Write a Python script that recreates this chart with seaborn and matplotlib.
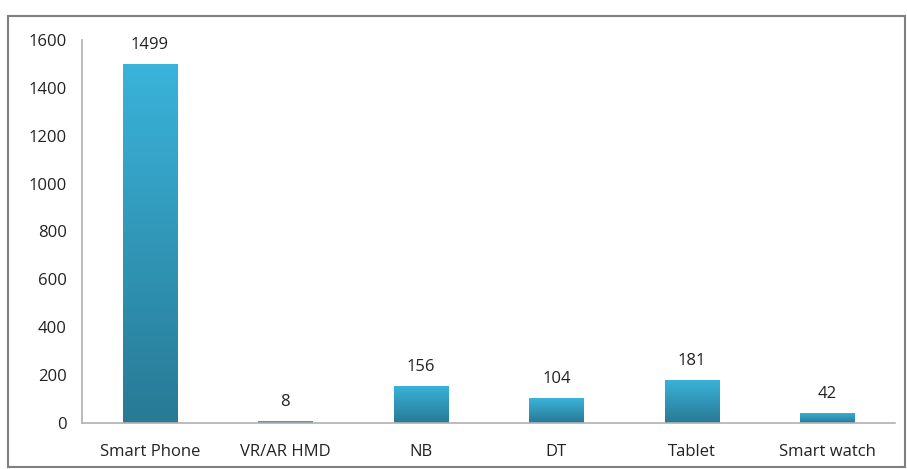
import numpy as np
import pandas as pd
import matplotlib
matplotlib.use('Agg')
import matplotlib.pyplot as plt
import seaborn as sns
from matplotlib.colors import LinearSegmentedColormap
from matplotlib.patches import Rectangle

devices = ["Smart Phone", "VR/AR HMD", "NB", "DT", "Tablet", "Smart watch"]
counts = [1499, 8, 156, 104, 181, 42]
y_ticks = [0, 200, 400, 600, 800, 1000, 1200, 1400, 1600]

sns.set_style("white")
plt.rcParams['font.family'] = ['Open Sans', 'DejaVu Sans']

df = pd.DataFrame({"device": devices, "count": counts})

fig = plt.figure(figsize=(9.07, 4.69), dpi=100)
ax = fig.add_axes([0.0904, 0.098, 0.8966, 0.817])

sns.barplot(x="device", y="count", data=df, ax=ax, width=0.4, color="#2fa3c6")

# excel-like vertical gradient on each bar
grad = LinearSegmentedColormap.from_list("bar", ["#287a95", "#3ab3da"])
ax.set_ylim(0, 1600)
for p in ax.patches:
	x0, y0 = p.get_x(), p.get_y()
	w, h = p.get_width(), p.get_height()
	img = ax.imshow(np.linspace(0, 1, 100).reshape(-1, 1), cmap=grad, origin="lower",
		extent=[x0, x0 + w, y0, y0 + h], aspect="auto", zorder=p.get_zorder() + 0.1)
	img.set_clip_path(p)
	ax.text(x0 + w / 2, y0 + h + 45, f"{int(h)}", ha="center", va="bottom",
		fontsize=12, color="#222222")

ax.set_xlim(-0.5, len(devices) - 0.5)
ax.set_ylim(0, 1600)
ax.set_yticks(y_ticks)
ax.set_xlabel("")
ax.set_ylabel("")
ax.set_xticks(range(len(devices)))
ax.set_xticklabels(devices, fontsize=12, color="#222222")
ax.set_xticks(np.arange(-0.5, len(devices)), minor=True)
ax.tick_params(axis="x", which="major", length=0, pad=15)
ax.tick_params(axis="x", which="minor", length=5, color="#a0a0a0", direction="out")
ax.tick_params(axis="y", length=5, color="#a0a0a0", direction="out", labelsize=12,
	labelcolor="#222222", pad=6)
ax.spines['right'].set_visible(False)
ax.spines['top'].set_visible(False)
for s in ["left", "bottom"]:
	ax.spines[s].set_color("#b0b0b0")
	ax.spines[s].set_linewidth(1.2)

fig.patches.append(Rectangle((8 / 907, 2 / 469), 897 / 907, 451 / 469, transform=fig.transFigure,
	fill=False, edgecolor="#7f7f7f", linewidth=1.5))

fig.savefig("out.png", dpi=100)
